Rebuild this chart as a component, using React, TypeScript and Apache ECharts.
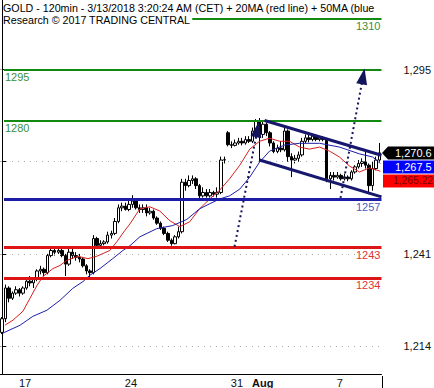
import React, { useEffect, useRef } from 'react';
import * as echarts from 'echarts';

// trading sessions (4h bars per day)
const sessions: [string, number][] = [
  ['Jul 14', 4], ['Jul 17', 6], ['Jul 18', 6], ['Jul 19', 6], ['Jul 20', 6], ['Jul 21', 6],
  ['Jul 24', 6], ['Jul 25', 6], ['Jul 26', 6], ['Jul 27', 6], ['Jul 28', 6],
  ['Jul 31', 6], ['Aug 1', 6], ['Aug 2', 6], ['Aug 3', 6], ['Aug 4', 6],
  ['Aug 7', 6], ['Aug 8', 6], ['Aug 9', 2],
];
const tickDays: Record<string, string> = { 'Jul 17': '17', 'Jul 24': '24', 'Jul 31': '31', 'Aug 1': 'Aug', 'Aug 7': '7' };

// [open, close, low, high]
const bars: number[][] = [
  [1218, 1222, 1217.5, 1222.5], [1222, 1231, 1221, 1232], [1231, 1228, 1226.8, 1231.5], [1228, 1229.5, 1227.5, 1230],
  [1229.5, 1230.5, 1229, 1231.5], [1230.5, 1229.5, 1228.5, 1231], [1229.5, 1231, 1229, 1231.5], [1231, 1233, 1230.5, 1233.5],
  [1233, 1232.5, 1231.5, 1234.5], [1232.5, 1233.5, 1231, 1234], [1233.5, 1236, 1233, 1236.5], [1236, 1236.5, 1235, 1237.5],
  [1236.5, 1235.5, 1234.5, 1237], [1235.5, 1240.5, 1235, 1241], [1240.5, 1242, 1240, 1243], [1242, 1241.5, 1240.5, 1242.5],
  [1241.5, 1242, 1241, 1242.8], [1242, 1240.5, 1240, 1242.5], [1240.5, 1238, 1234.5, 1241], [1238, 1241.5, 1237.5, 1242.5],
  [1241.5, 1240.5, 1239.5, 1242.5], [1240.5, 1240, 1239, 1241.5], [1240, 1239.5, 1238.5, 1241], [1239.5, 1237.5, 1237, 1240],
  [1237.5, 1236, 1235, 1238], [1236, 1235.5, 1234.2, 1236.5], [1235.5, 1245.5, 1235, 1246.5], [1245.5, 1243.5, 1243, 1246],
  [1243.5, 1244, 1243, 1245], [1244, 1244.5, 1243.5, 1245], [1244.5, 1246.5, 1244, 1247.5], [1246.5, 1247, 1245.5, 1247.8],
  [1247, 1250.5, 1246.5, 1251.5], [1250.5, 1254.5, 1250, 1255.5], [1254.5, 1255, 1253.5, 1256], [1255, 1254, 1253.7, 1256],
  [1254, 1255.5, 1253.5, 1256.5], [1255.5, 1256.5, 1254.5, 1258.2], [1256.5, 1254.5, 1254, 1257], [1254.5, 1254, 1253, 1255.5],
  [1254, 1254.5, 1253, 1255.5], [1254.5, 1253, 1252, 1255.5], [1253, 1253.5, 1252.5, 1254.5], [1253.5, 1251.5, 1251, 1254],
  [1251.5, 1250, 1249.5, 1252], [1250, 1248.5, 1248, 1250.5], [1248.5, 1247, 1246.5, 1249], [1247, 1245, 1244.5, 1247.5],
  [1245, 1244, 1243.4, 1245.5], [1244, 1246, 1243.8, 1246.5], [1246, 1247.5, 1245.5, 1249], [1247.5, 1262, 1247, 1263],
  [1262, 1261, 1259.5, 1263], [1261, 1262.5, 1260.5, 1264], [1262.5, 1263, 1261.5, 1264], [1263, 1261, 1260, 1263.5],
  [1261, 1258, 1256.5, 1261.5], [1258, 1259, 1257.5, 1260.5], [1259, 1258, 1257.5, 1260], [1258, 1259, 1257.5, 1260],
  [1259, 1258.5, 1257.8, 1259.5], [1258.5, 1259, 1257.5, 1260.5], [1259, 1268.5, 1258.5, 1269.5], [1268.5, 1268.6, 1267.5, 1269.5],
  [1276.5, 1273, 1272.5, 1277], [1273, 1272.8, 1272, 1274], [1272.8, 1273.5, 1272.5, 1274.5], [1273.5, 1274, 1273, 1275],
  [1274, 1273.5, 1272.8, 1275], [1273.5, 1274.5, 1273, 1275.5], [1274.5, 1274, 1273.5, 1275.5], [1274, 1277, 1273.5, 1278],
  [1277, 1280, 1276.5, 1280.5], [1280, 1276, 1268, 1280.8], [1276, 1279, 1275, 1280.2], [1279, 1276.5, 1275.5, 1279.5],
  [1276.5, 1273.5, 1272.5, 1277], [1273.5, 1271, 1270.5, 1274], [1271, 1272, 1270.5, 1273], [1272, 1271.5, 1270.8, 1274],
  [1271.5, 1277, 1271, 1278], [1277, 1269.5, 1268, 1277.5], [1269.5, 1268.5, 1263.5, 1270.5], [1268.5, 1269, 1267.5, 1270],
  [1269, 1270, 1268, 1271], [1270, 1274, 1269.5, 1275], [1274, 1275, 1273.5, 1276], [1275, 1274.5, 1273.7, 1276],
  [1274.5, 1275.5, 1274, 1276.2], [1275.5, 1274.5, 1274, 1276], [1274.5, 1275, 1274, 1275.5], [1275, 1274.5, 1274, 1275.5],
  [1274.5, 1263, 1262, 1275], [1263, 1264, 1260, 1265], [1264, 1263.5, 1262.5, 1265], [1263.5, 1264, 1263, 1265],
  [1264, 1263, 1262.5, 1264.5], [1263, 1263.5, 1262.5, 1264.5], [1263.5, 1263, 1262.3, 1264], [1263, 1265, 1262.5, 1265.5],
  [1265, 1266.5, 1264.5, 1267], [1266.5, 1267.5, 1266, 1268.5], [1267.5, 1268, 1266.5, 1269], [1268, 1267, 1266, 1271],
  [1267, 1261, 1258.5, 1267.5], [1261, 1266, 1259.5, 1268], [1266, 1268.5, 1265.5, 1269.5], [1268.5, 1270.6, 1268, 1273.5],
];

// moving averages sampled along the bar index
const ma20Idx = [0.9, 3.2, 6.0, 8.0, 10.0, 11.7, 14.5, 16.5, 18.4, 21.6, 24.4, 26.9, 30.6, 32.6, 34.8, 36.3, 39.1, 41.9, 44.7, 47.6, 50.4, 53.2, 56.0, 58.9, 61.7, 64.5, 67.4, 70.2, 73.0, 75.8, 78.7, 81.5, 84.3, 87.1, 90.0, 92.8, 95.6, 98.5, 101.3, 104.1, 107.2];
const ma20 = [1220.1, 1221.6, 1224.2, 1228.0, 1231.8, 1234.4, 1236.7, 1237.6, 1239.1, 1240.3, 1239.6, 1240.3, 1242.0, 1244.6, 1247.8, 1249.8, 1254.2, 1254.8, 1253.6, 1250.7, 1249.0, 1250.4, 1254.2, 1257.1, 1259.7, 1263.0, 1267.0, 1271.7, 1274.0, 1274.9, 1274.0, 1274.0, 1272.3, 1271.7, 1272.3, 1271.1, 1269.4, 1266.7, 1265.0, 1266.2, 1265.22];
const ma50Idx = [0.35, 5.2, 8.8, 12.8, 16.5, 20.1, 23.0, 24.9, 27.8, 31.4, 34.3, 36.3, 39.1, 43.9, 48.4, 52.4, 56.0, 58.9, 61.7, 64.5, 67.4, 70.2, 73.0, 75.8, 80.1, 84.3, 90.0, 95.6, 101.3, 105.0, 107.2];
const ma50 = [1217.8, 1220.1, 1222.7, 1224.5, 1227.4, 1230.9, 1232.9, 1234.7, 1236.7, 1239.6, 1242.0, 1243.4, 1246.0, 1248.4, 1249.3, 1251.1, 1254.2, 1255.7, 1257.1, 1258.0, 1260.0, 1263.5, 1267.9, 1271.1, 1272.9, 1273.4, 1273.4, 1272.3, 1270.3, 1269.4, 1267.5];

const resistance = [1310, 1295, 1280];
const pivot = [1257];
const support = [1243, 1234];
const yTicks = [1214, 1241, 1268, 1295];
// 1,268 label is hidden behind the price tags in the reference
const yLabels = [1214, 1241, 1295];

// channel & projections: [barIndex, price]
const channelUpper = [[74.4, 1280.1], [107.5, 1269.9]];
const channelLower = [[73.0, 1268.5], [107.5, 1257.7]];
const arrowUp1 = [[65.9, 1243.1], [72.4, 1277.5]];
const arrowUp2 = [[95.9, 1257.4], [102.3, 1293.0]];

const titleLine1 = 'GOLD - 120min - 3/13/2018 3:20:24 AM (CET) + 20MA (red line) + 50MA (blue';
const titleLine2 = 'Research \u00a9 2017 TRADING CENTRAL';

const FONT = '"Liberation Sans", Arial, sans-serif';

export default function App() {
  const ref = useRef<HTMLDivElement>(null);
  useEffect(() => {
    if (!ref.current) return;
    const chart = echarts.init(ref.current, null, { renderer: 'svg' });
    const categories: string[] = [];
    const tickMap: Record<string, string> = {};
    sessions.forEach(([d, n]) => {
      for (let k = 0; k < n; k++) {
        const name = `${d} #${k}`;
        categories.push(name);
        if (k === 0 && tickDays[d]) tickMap[name] = tickDays[d];
      }
    });
    const nBars = categories.length;
    const isTick = (i: number) => !!tickMap[categories[i]];

    const levelLine = (v: number, color: string, labelColor: string, width: number, side: 'start' | 'end') => [
      {
        coord: [0.63, v],
        lineStyle: { color, width, type: 'solid' },
        label: {
          show: true,
          formatter: String(v),
          position: side === 'start' ? 'insideStartBottom' : 'insideEndBottom',
          color: labelColor,
          fontSize: 11,
          fontFamily: FONT,
          distance: [1, 2],
        },
      },
      { coord: [nBars - 0.5, v] },
    ];

    const levelData: any[] = [];
    resistance.forEach((v, i) => levelData.push(levelLine(v, '#128a12', '#3a8f3a', 2, i === 0 ? 'end' : 'start')));
    pivot.forEach((v) => levelData.push(levelLine(v, '#1c1ca6', '#4a5cc0', 3, 'end')));
    support.forEach((v) => levelData.push(levelLine(v, '#dd1515', '#e03535', 3, 'end')));

    const option: any = {
      animation: false,
      grid: { left: 0, right: 52, top: 0, bottom: 12 },
      xAxis: [
        {
          type: 'category',
          data: categories,
          boundaryGap: true,
          axisLine: { lineStyle: { color: '#000', width: 1 } },
          axisTick: { alignWithLabel: true, interval: (i: number) => isTick(i), length: 5, lineStyle: { color: '#000' } },
          axisLabel: {
            interval: (i: number) => isTick(i),
            formatter: (v: string) => (tickMap[v] === 'Aug' ? '{b|Aug}' : tickMap[v] || ''),
            align: 'left',
            margin: 3,
            padding: [0, 0, 0, 3],
            color: '#111',
            fontSize: 11,
            fontFamily: FONT,
            rich: { b: { fontWeight: 'bold', fontSize: 11, fontFamily: FONT, color: '#111' } },
          },
          splitLine: { show: false },
        },
        { type: 'value', min: -0.5, max: nBars - 0.5, show: false },
      ],
      yAxis: {
        type: 'value',
        position: 'right',
        min: 1205.8,
        max: 1315.4,
        axisLine: { show: true, lineStyle: { color: '#000', width: 1 } },
        axisTick: { show: true, customValues: yTicks, length: 5, lineStyle: { color: '#000' } },
        axisLabel: {
          customValues: yLabels,
          formatter: (v: number) => v.toLocaleString('en-US'),
          margin: 22,
          color: '#111',
          fontSize: 11,
          fontFamily: FONT,
        },
        splitLine: { show: false },
      },
      series: [
        {
          type: 'line',
          xAxisIndex: 1,
          data: [],
          z: 1,
          markLine: {
            silent: true,
            symbol: 'none',
            lineStyle: { color: '#aaa', width: 1, type: [1, 5] },
            label: { show: false },
            data: yTicks.map((v) => [{ coord: [-0.5, v] }, { coord: [nBars - 0.5, v] }]),
          },
        },
        {
          type: 'line',
          xAxisIndex: 1,
          data: [],
          z: 1,
          markLine: { silent: true, symbol: 'none', data: levelData },
        },
        {
          type: 'candlestick',
          xAxisIndex: 0,
          data: bars,
          barWidth: 3,
          z: 3,
          itemStyle: { color: '#ffffff', color0: '#000000', borderColor: '#000000', borderColor0: '#000000', borderWidth: 1 },
        },
        {
          type: 'line',
          xAxisIndex: 1,
          data: ma20Idx.map((x, i) => [x, ma20[i]]),
          showSymbol: false,
          symbol: 'none',
          z: 4,
          lineStyle: { color: '#d81e1e', width: 1 },
        },
        {
          type: 'line',
          xAxisIndex: 1,
          data: ma50Idx.map((x, i) => [x, ma50[i]]),
          showSymbol: false,
          symbol: 'none',
          z: 4,
          lineStyle: { color: '#1e1ea8', width: 1 },
        },
        {
          type: 'line',
          xAxisIndex: 1,
          data: [],
          z: 5,
          markLine: {
            silent: true,
            symbol: 'none',
            label: { show: false },
            data: [
              [
                { coord: channelUpper[0], lineStyle: { color: '#17176e', width: 3, type: 'solid' } },
                { coord: channelUpper[1] },
              ],
              [
                { coord: channelLower[0], lineStyle: { color: '#17176e', width: 3, type: 'solid' } },
                { coord: channelLower[1] },
              ],
            ],
          },
        },
        {
          type: 'line',
          xAxisIndex: 1,
          data: [],
          z: 5,
          markLine: {
            silent: true,
            symbol: ['none', 'triangle'],
            symbolSize: [11, 16],
            label: { show: false },
            lineStyle: { color: '#14145a', width: 2, type: [2, 3] },
            itemStyle: { color: '#14145a' },
            data: [
              [{ coord: arrowUp1[0] }, { coord: arrowUp1[1] }],
              [{ coord: arrowUp2[0] }, { coord: arrowUp2[1] }],
            ],
          },
        },
      ],
    };
    chart.setOption(option);

    // price tags at right
    const lastClose = bars[bars.length - 1][1];
    const lastMa50 = ma50[ma50.length - 1];
    const lastMa20 = ma20[ma20.length - 1];
    const toY = (v: number) => chart.convertToPixel({ yAxisIndex: 0 }, v) as number;
    const axisX = 382;
    const h = 13;
    const y1 = toY(lastClose);
    const y2 = Math.max(toY(lastMa50), y1 + h + 1);
    const y3 = Math.max(toY(lastMa20), y2 + h + 1);
    const fmt = (v: number) => v.toLocaleString('en-US', { minimumFractionDigits: 1, maximumFractionDigits: 2 });
    const tagFont = `11px ${FONT}`;
    const titleFont = `10.7px ${FONT}`;

    chart.setOption({
      graphic: [
        {
          type: 'text', x: 3, y: 7.5, z: 100,
          style: { text: titleLine1, font: titleFont, fill: '#000', backgroundColor: '#fff', verticalAlign: 'middle' },
        },
        {
          type: 'text', x: 3, y: 19.5, z: 100,
          style: { text: titleLine2, font: titleFont, fill: '#000', backgroundColor: '#fff', verticalAlign: 'middle', padding: [1, 2, 1, 0] },
        },
        { type: 'line', z: 100, shape: { x1: axisX + 0.5, y1: 376, x2: axisX + 0.5, y2: 388 }, style: { stroke: '#000', lineWidth: 1 } },
        {
          type: 'polygon', z: 100,
          shape: { points: [[axisX, y1], [axisX + 6, y1 - h / 2], [434, y1 - h / 2], [434, y1 + h / 2], [axisX + 6, y1 + h / 2]] },
          style: { fill: '#000' },
        },
        { type: 'text', z: 101, x: 395, y: y1, style: { text: fmt(lastClose), font: tagFont, fill: '#fff', verticalAlign: 'middle' } },
        { type: 'rect', z: 100, shape: { x: axisX + 1, y: y2 - h / 2, width: 434 - axisX - 1, height: h }, style: { fill: '#0000ff' } },
        { type: 'text', z: 101, x: 395, y: y2, style: { text: fmt(lastMa50), font: tagFont, fill: '#fff', verticalAlign: 'middle' } },
        { type: 'rect', z: 100, shape: { x: axisX + 1, y: y3 - h / 2, width: 434 - axisX - 1, height: h }, style: { fill: '#ff0000' } },
        { type: 'text', z: 101, x: 393, y: y3, style: { text: fmt(lastMa20), font: `10.3px ${FONT}`, fill: '#7a0000', verticalAlign: 'middle' } },
      ],
    });

    return () => chart.dispose();
  }, []);
  return <div ref={ref} style={{ position: 'fixed', left: 0, top: 0, width: 434, height: 388, background: '#fff' }} />;
}
